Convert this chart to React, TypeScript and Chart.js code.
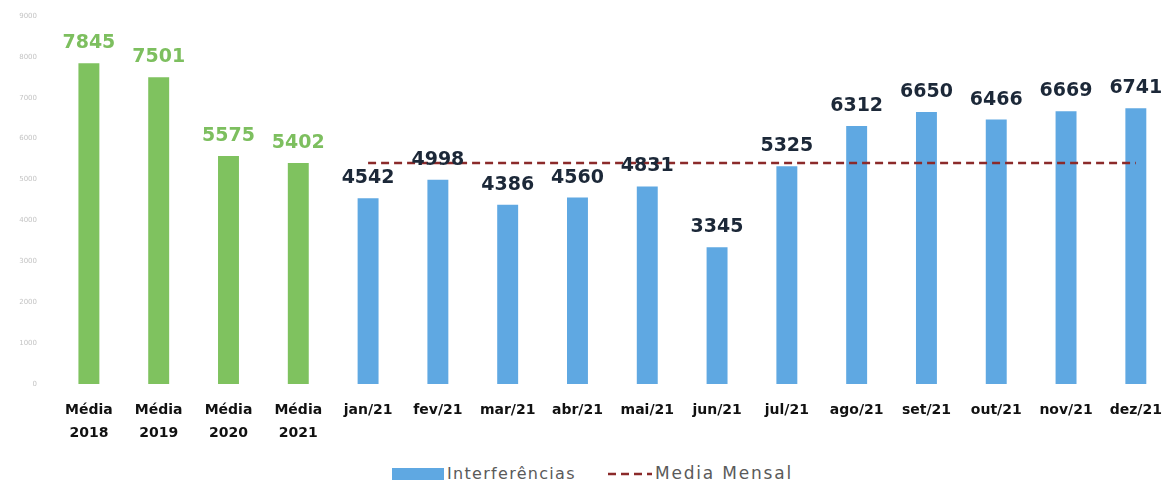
import React, { useEffect, useRef } from 'react';
import { Chart, registerables } from 'chart.js';

Chart.register(...registerables);

const categories: (string | string[])[] = [
  ['Média', '2018'], ['Média', '2019'], ['Média', '2020'], ['Média', '2021'],
  'jan/21', 'fev/21', 'mar/21', 'abr/21', 'mai/21', 'jun/21',
  'jul/21', 'ago/21', 'set/21', 'out/21', 'nov/21', 'dez/21',
];
const interferencias = [7845, 7501, 5575, 5402, 4542, 4998, 4386, 4560, 4831, 3345, 5325, 6312, 6650, 6466, 6669, 6741];
const mediaMensal = [null, null, null, null, 5402, 5402, 5402, 5402, 5402, 5402, 5402, 5402, 5402, 5402, 5402, 5402];
const yMax = 9000;
const yStep = 1000;

const GREEN = '#7fc25f';
const BLUE = '#5fa8e2';
const RED = '#8b2a2a';
const barColors = interferencias.map((_, i) => (i < 4 ? GREEN : BLUE));
const labelColors = interferencias.map((_, i) => (i < 4 ? '#7dbf5f' : '#1c2838'));

const valueLabels = {
  id: 'valueLabels',
  afterDatasetsDraw(chart: any) {
    const ctx = chart.ctx;
    const meta = chart.getDatasetMeta(0);
    ctx.save();
    ctx.font = 'bold 19px "DejaVu Sans"';
    ctx.textAlign = 'center';
    ctx.textBaseline = 'alphabetic';
    meta.data.forEach((bar: any, i: number) => {
      ctx.fillStyle = labelColors[i];
      ctx.fillText(String(interferencias[i]), bar.x, bar.y - 15);
    });
    ctx.restore();
  },
};

export default function App() {
  const ref = useRef<HTMLCanvasElement>(null);
  useEffect(() => {
    const chart = new Chart(ref.current!, {
      type: 'bar',
      data: {
        labels: categories,
        datasets: [
          {
            type: 'bar',
            label: 'Interferências',
            data: interferencias,
            backgroundColor: barColors,
            barPercentage: 0.3,
            categoryPercentage: 1,
            order: 2,
          },
          {
            type: 'line',
            label: 'Media Mensal',
            data: mediaMensal as any,
            borderColor: RED,
            borderWidth: 2.5,
            borderDash: [8, 5],
            pointRadius: 0,
            fill: false,
            order: 1,
          },
        ],
      },
      options: {
        responsive: false,
        animation: false,
        devicePixelRatio: 1,
        layout: { padding: { top: 16, right: 1, left: 0, bottom: 0 } },
        plugins: { legend: { display: false }, title: { display: false }, tooltip: { enabled: false } },
        scales: {
          x: {
            grid: { display: false, drawTicks: false },
            border: { display: false },
            ticks: {
              color: '#111',
              font: { family: 'DejaVu Sans', size: 14, weight: 'bold', lineHeight: 1.7 },
              padding: 14,
              maxRotation: 0,
              autoSkip: false,
            },
            afterFit: (s: any) => { s.height = 71; s.paddingTop = 0; s.paddingBottom = 0; },
          },
          y: {
            min: 0,
            max: yMax,
            grid: { display: false, drawTicks: false },
            border: { display: false },
            ticks: {
              stepSize: yStep,
              color: '#c4c4c4',
              font: { family: 'DejaVu Sans', size: 7 },
              padding: 17,
              callback: (v: any) => String(v),
            },
            afterFit: (s: any) => { s.width = 54; s.paddingTop = 0; s.paddingBottom = 0; },
          },
        },
      },
      plugins: [valueLabels],
    } as any);
    return () => chart.destroy();
  }, []);

  return (
    <div style={{ position: 'fixed', left: 0, top: 0, width: 1176, height: 489, background: '#fff', fontFamily: 'DejaVu Sans' }}>
      <canvas ref={ref} width={1176} height={455} style={{ display: 'block' }} />
      <div style={{ position: 'absolute', left: 392, top: 468, width: 52, height: 12, background: BLUE }} />
      <div style={{ position: 'absolute', left: 447, top: 463, fontSize: 16, color: '#5a5a5a', letterSpacing: 1.3, lineHeight: '22px' }}>Interferências</div>
      <svg style={{ position: 'absolute', left: 608, top: 468 }} width={44} height={12}>
        <line x1={0} y1={6} x2={44} y2={6} stroke={RED} strokeWidth={2.5} strokeDasharray="8 5" />
      </svg>
      <div style={{ position: 'absolute', left: 655, top: 462, fontSize: 17, color: '#5a5a5a', letterSpacing: 1.8, lineHeight: '22px' }}>Media Mensal</div>
    </div>
  );
}
